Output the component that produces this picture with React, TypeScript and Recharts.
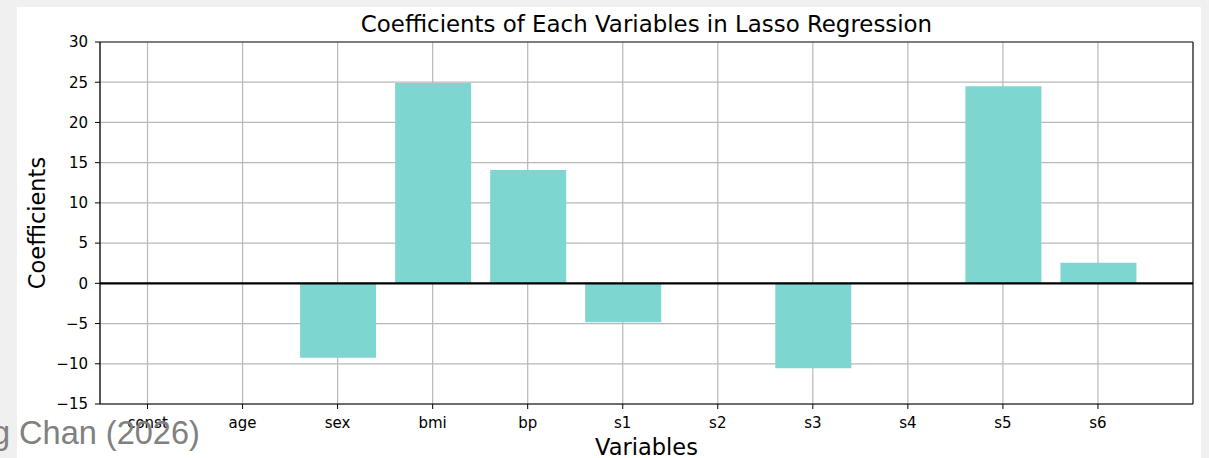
import React from 'react';
import { BarChart, Bar, XAxis, YAxis, CartesianGrid, ReferenceLine } from 'recharts';

const categories = ['const', 'age', 'sex', 'bmi', 'bp', 's1', 's2', 's3', 's4', 's5', 's6'];
const coefficients = [0, 0, -9.25, 24.9, 14.1, -4.85, 0, -10.55, 0, 24.5, 2.55];
const yTicks = [-15, -10, -5, 0, 5, 10, 15, 20, 25, 30];
const xTicks = categories.map((_, i) => i);

const data = categories.map((name, i) => ({ i, name, value: coefficients[i] }));

const FONT = '"DejaVu Sans", sans-serif';
const W = 1209;
const H = 458;

export default function App() {
  return (
    <div style={{ position: 'fixed', left: 0, top: 0, width: W, height: H, background: '#f0f0f0', overflow: 'hidden' }}>
      <div style={{ position: 'absolute', left: 17, top: 7, width: 1184, height: 460, background: '#ffffff' }} />
      <div style={{ position: 'absolute', left: 0, top: 0 }}>
        <BarChart
          width={W}
          height={H}
          data={data}
          margin={{ top: 42, right: 16, left: 40, bottom: 24 }}
        >
          <XAxis
            dataKey="i"
            type="number"
            domain={[-0.5, 11]}
            allowDataOverflow
            ticks={xTicks}
            interval={0}
            tickFormatter={(v: number) => categories[v] ?? ''}
            height={30}
            tickSize={5}
            tickMargin={8}
            axisLine={{ stroke: '#000', strokeWidth: 1.2 }}
            tickLine={{ stroke: '#000', strokeWidth: 1 }}
            tick={{ fill: '#000', fontSize: 15, fontFamily: FONT }}
          />
          <YAxis
            type="number"
            domain={[-15, 30]}
            ticks={yTicks}
            interval={0}
            allowDataOverflow
            width={60}
            tickSize={5}
            tickMargin={7}
            tickFormatter={(v: number) => String(v).replace('-', '\u2212')}
            axisLine={{ stroke: '#000', strokeWidth: 1.2 }}
            tickLine={{ stroke: '#000', strokeWidth: 1 }}
            tick={{ fill: '#000', fontSize: 15, fontFamily: FONT }}
          />
          <Bar dataKey="value" fill="#7dd6cf" barSize={76} isAnimationActive={false} />
          <CartesianGrid stroke="#b8b8b8" strokeWidth={1.2} />
          <ReferenceLine y={30} stroke="#222" strokeWidth={1.2} />
          <ReferenceLine x={11} stroke="#222" strokeWidth={1.2} />
          <ReferenceLine y={0} stroke="#000" strokeWidth={2.2} />
        </BarChart>
      </div>
      <svg width={W} height={H} style={{ position: 'absolute', left: 0, top: 0, pointerEvents: 'none' }}>
        <text x={646.5} y={32} textAnchor="middle" fontFamily={FONT} fontSize={22.9} fill="#000">
          Coefficients of Each Variables in Lasso Regression
        </text>
        <text x={646.5} y={455} textAnchor="middle" fontFamily={FONT} fontSize={22.5} fill="#000">
          Variables
        </text>
        <text transform="translate(45,223) rotate(-90)" textAnchor="middle" fontFamily={FONT} fontSize={22.5} fill="#000">
          Coefficients
        </text>
        <text x={-8} y={444} fontFamily='"Liberation Sans", Arial, sans-serif' fontSize={32.5} fill="#808080">
          g Chan (2026)
        </text>
      </svg>
    </div>
  );
}
